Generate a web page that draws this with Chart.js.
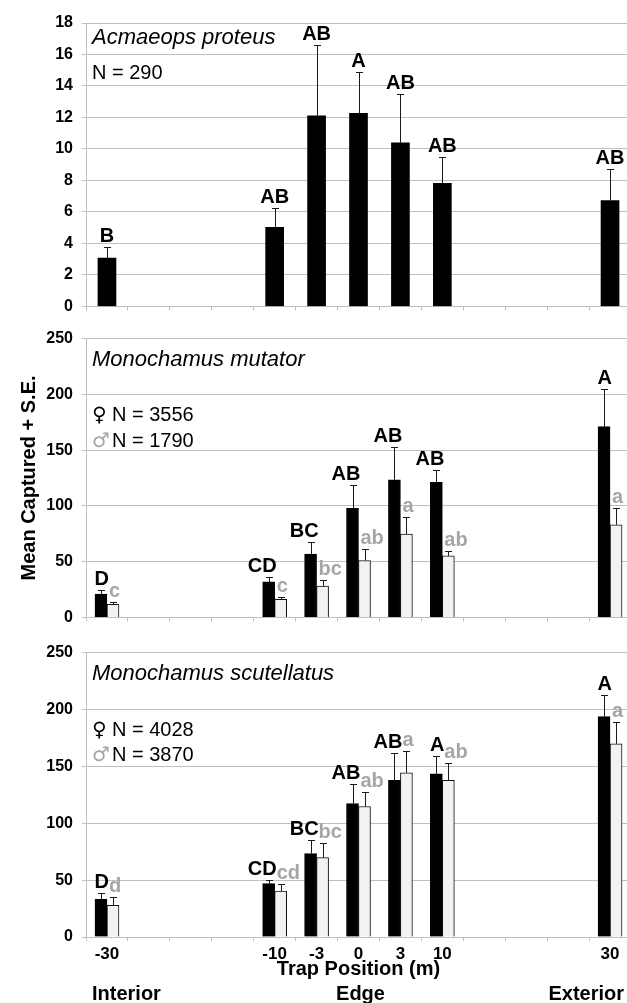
<!DOCTYPE html>
<html>
<head>
<meta charset="utf-8">
<script src="https://cdn.jsdelivr.net/npm/chart.js@4.4.1/dist/chart.umd.min.js"></script>
<style>
    html, body { margin: 0; padding: 0; background: #fff; overflow: hidden; }
    #wrap { position: relative; width: 627px; height: 1003px; overflow: hidden; }
    canvas { position: absolute; left: 0; }
</style>
</head>
<body>
<div id="wrap">
    <canvas id="proteusChart" width="631" height="325" style="top:0px"></canvas>
    <canvas id="mutatorChart" width="631" height="316" style="top:320px"></canvas>
    <canvas id="scutellatusChart" width="631" height="369" style="top:634px"></canvas>
</div>
<script>
// trap positions (m), empty slots keep the gaps between interior / edge / exterior
const positions = ["-30", "", "", "", "-10", "-3", "0", "3", "10", "", "", "", "30"];

// Acmaeops proteus
const proteusMean = [3.07, null, null, null, 5.03, 12.1, 12.27, 10.39, 7.82, null, null, null, 6.72];
const proteusSE = [0.72, null, null, null, 1.2, 4.5, 2.63, 3.08, 1.68, null, null, null, 2.01];
const proteusLetters = ["B", null, null, null, "AB", "AB", "A", "AB", "AB", null, null, null, "AB"];

// Monochamus mutator
const mutatorFemale = [20.9, null, null, null, 31.8, 56.7, 97.7, 123.4, 121.1, null, null, null, 171];
const mutatorFemaleSE = [3.4, null, null, null, 4.0, 10.6, 20.9, 29.3, 10.9, null, null, null, 33.7];
const mutatorFemaleLetters = ["D", null, null, null, "CD", "BC", "AB", "AB", "AB", null, null, null, "A"];
const mutatorMale = [11.8, null, null, null, 16.1, 28.1, 51, 74.7, 55.2, null, null, null, 83.1];
const mutatorMaleSE = [1.9, null, null, null, 2.5, 5.1, 10.3, 14.9, 4.3, null, null, null, 14.6];
const mutatorMaleLetters = ["c", null, null, null, "c", "bc", "ab", "a", "ab", null, null, null, "a"];

// Monochamus scutellatus
const scutFemale = [33.1, null, null, null, 46.9, 73.3, 117.2, 137.7, 143.4, null, null, null, 193.7];
const scutFemaleSE = [5.7, null, null, null, 3.4, 12.4, 17.3, 23.9, 16.1, null, null, null, 19.2];
const scutFemaleLetters = ["D", null, null, null, "CD", "BC", "AB", "AB", "A", null, null, null, "A"];
const scutMale = [27.9, null, null, null, 40.3, 69.8, 114.7, 144.3, 137.7, null, null, null, 169.8];
const scutMaleSE = [7.4, null, null, null, 6.3, 12.7, 12.6, 19.5, 15.2, null, null, null, 19];
const scutMaleLetters = ["d", null, null, null, "cd", "bc", "ab", "a", "ab", null, null, null, "a"];

const FONT = "'Liberation Sans', Arial, sans-serif";
const GRID = "#bfbfbf";
const GRAY_TEXT = "#a6a6a6";

Chart.defaults.font.family = FONT;
Chart.defaults.color = "#000";

const errorBars = {
    id: "errorBars",
    afterDatasetsDraw(chart) {
        const { ctx, scales: { y } } = chart;
        ctx.save();
        ctx.strokeStyle = "#1a1a1a";
        ctx.lineWidth = 1;
        chart.data.datasets.forEach((ds, i) => {
            chart.getDatasetMeta(i).data.forEach((bar, j) => {
                const v = ds.data[j];
                const se = ds.errors[j];
                if (v == null || se == null) return;
                const x = Math.round(bar.x) + 0.5;
                const top = Math.round(y.getPixelForValue(v + se)) + 0.5;
                ctx.beginPath();
                ctx.moveTo(x, bar.y);
                ctx.lineTo(x, top);
                ctx.moveTo(x - 3.5, top);
                ctx.lineTo(x + 3.5, top);
                ctx.stroke();
            });
        });
        ctx.restore();
    }
};

const letterLabels = {
    id: "letterLabels",
    afterDatasetsDraw(chart) {
        const { ctx, scales: { y } } = chart;
        ctx.save();
        ctx.font = `bold 20px ${FONT}`;
        ctx.textBaseline = "alphabetic";
        chart.data.datasets.forEach((ds, i) => {
            ctx.fillStyle = ds.letterColor;
            ctx.textAlign = ds.letterAlign;
            chart.getDatasetMeta(i).data.forEach((bar, j) => {
                const letter = ds.letters[j];
                if (!letter) return;
                const top = y.getPixelForValue(ds.data[j] + ds.errors[j]) - 5;
                let x = bar.x;
                if (ds.letterAlign === "right") x = bar.x + bar.width / 2 + 2;
                if (ds.letterAlign === "left") x = bar.x - bar.width / 2 + 2;
                ctx.fillText(letter, x, top);
            });
        });
        ctx.restore();
    }
};

const panelNotes = {
    id: "panelNotes",
    afterDraw(chart, args, opts) {
        const { ctx, chartArea } = chart;
        const left = chartArea.left + 6;
        ctx.save();
        ctx.textAlign = "left";
        ctx.textBaseline = "alphabetic";
        ctx.fillStyle = "#000";
        ctx.font = `italic 22px ${FONT}`;
        ctx.fillText(opts.species, left, chartArea.top + opts.speciesY);
        (opts.lines || []).forEach(line => {
            let x = left;
            if (line.symbol) {
                ctx.font = "bold 20px 'DejaVu Sans', sans-serif";
                ctx.fillStyle = line.symbolColor;
                ctx.fillText(line.symbol, x, chartArea.top + line.y);
                x += 20;
            }
            ctx.font = `20px ${FONT}`;
            ctx.fillStyle = "#000";
            ctx.fillText(line.text, x, chartArea.top + line.y);
        });
        if (opts.regions) {
            const xScale = chart.scales.x;
            const base = chartArea.bottom + 63;
            ctx.font = `bold 20px ${FONT}`;
            ctx.textAlign = "left";
            ctx.fillText("Interior", chartArea.left + 6, base);
            ctx.textAlign = "center";
            ctx.fillText("Edge", xScale.getPixelForValue(6) + 2, base);
            ctx.textAlign = "right";
            ctx.fillText("Exterior", chartArea.right - 7, base);
        }
        ctx.restore();
    }
};

function femaleDataset(data, errors, letters) {
    return {
        data, errors, letters,
        letterAlign: "right",
        letterColor: "#000",
        backgroundColor: "#000",
        borderColor: "#000",
        borderWidth: 1,
        barThickness: 12
    };
}

function maleDataset(data, errors, letters) {
    return {
        data, errors, letters,
        letterAlign: "left",
        letterColor: GRAY_TEXT,
        backgroundColor: "#f2f2f2",
        borderColor: "#111",
        borderWidth: 1,
        barThickness: 12
    };
}

function chartOptions({ yMax, yStep, padding, xHeight, showXLabels, yTitle, notes }) {
    return {
        responsive: false,
        animation: false,
        devicePixelRatio: 1,
        layout: { padding },
        plugins: {
            legend: { display: false },
            tooltip: { enabled: false },
            panelNotes: notes
        },
        scales: {
            x: {
                offset: true,
                grid: { display: true, drawOnChartArea: false, drawTicks: true, tickLength: 4, color: GRID, offset: true },
                border: { display: true, color: GRID },
                ticks: {
                    display: showXLabels,
                    autoSkip: false,
                    maxRotation: 0,
                    padding: 3,
                    color: "#000",
                    font: { size: 17, weight: "bold" }
                },
                title: showXLabels ? {
                    display: true,
                    text: "Trap Position (m)",
                    color: "#000",
                    font: { size: 20, weight: "bold" },
                    padding: { top: 0, bottom: 22 }
                } : { display: false },
                afterFit: scale => { scale.height = xHeight; }
            },
            y: {
                min: 0,
                max: yMax,
                ticks: { stepSize: yStep, padding: 9, color: "#000", font: { size: 16, weight: "bold" } },
                grid: { color: GRID, tickLength: 4 },
                border: { display: true, color: GRID },
                title: yTitle ? {
                    display: true,
                    text: yTitle,
                    color: "#000",
                    font: { size: 20, weight: "bold" },
                    padding: { top: 17, bottom: 0 }
                } : { display: false },
                afterFit: scale => { scale.width = 86; }
            }
        }
    };
}

new Chart(document.getElementById("proteusChart"), {
    type: "bar",
    data: {
        labels: positions,
        datasets: [{
            data: proteusMean,
            errors: proteusSE,
            letters: proteusLetters,
            letterAlign: "center",
            letterColor: "#000",
            backgroundColor: "#000",
            borderColor: "#000",
            borderWidth: 0,
            barThickness: 18
        }]
    },
    options: chartOptions({
        yMax: 18, yStep: 2,
        padding: { top: 23, bottom: 4, left: 0, right: 0 },
        xHeight: 8, showXLabels: false,
        notes: { species: "Acmaeops proteus", speciesY: 21, lines: [{ text: "N = 290", y: 56 }] }
    }),
    plugins: [errorBars, letterLabels, panelNotes]
});

new Chart(document.getElementById("mutatorChart"), {
    type: "bar",
    data: {
        labels: positions,
        datasets: [
            femaleDataset(mutatorFemale, mutatorFemaleSE, mutatorFemaleLetters),
            maleDataset(mutatorMale, mutatorMaleSE, mutatorMaleLetters)
        ]
    },
    options: chartOptions({
        yMax: 250, yStep: 50,
        padding: { top: 15, bottom: 2, left: 0, right: 0 },
        xHeight: 8, showXLabels: false,
        yTitle: "Mean Captured + S.E.",
        notes: {
            species: "Monochamus mutator", speciesY: 27,
            lines: [
                { symbol: "♀", symbolColor: "#000", text: "N = 3556", y: 82 },
                { symbol: "♂", symbolColor: GRAY_TEXT, text: "N = 1790", y: 108 }
            ]
        }
    }),
    plugins: [errorBars, letterLabels, panelNotes]
});

new Chart(document.getElementById("scutellatusChart"), {
    type: "bar",
    data: {
        labels: positions,
        datasets: [
            femaleDataset(scutFemale, scutFemaleSE, scutFemaleLetters),
            maleDataset(scutMale, scutMaleSE, scutMaleLetters)
        ]
    },
    options: chartOptions({
        yMax: 250, yStep: 50,
        padding: { top: 13, bottom: 0, left: 0, right: 0 },
        xHeight: 66, showXLabels: true,
        notes: {
            species: "Monochamus scutellatus", speciesY: 27,
            lines: [
                { symbol: "♀", symbolColor: "#000", text: "N = 4028", y: 83 },
                { symbol: "♂", symbolColor: GRAY_TEXT, text: "N = 3870", y: 108 }
            ],
            regions: true
        }
    }),
    plugins: [errorBars, letterLabels, panelNotes]
});
</script>
</body>
</html>
